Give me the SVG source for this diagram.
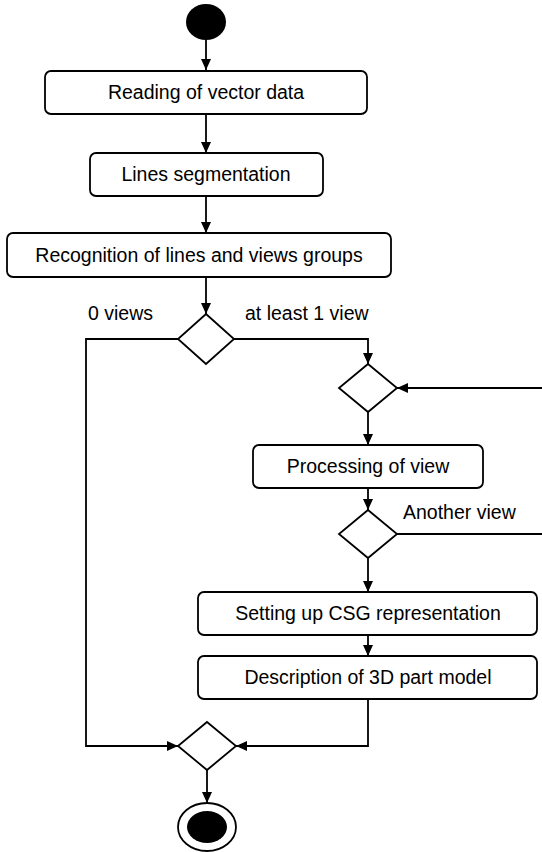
<svg xmlns="http://www.w3.org/2000/svg" width="542" height="852" viewBox="0 0 542 852">
  <style>
    .box { fill: #ffffff; stroke: #000000; stroke-width: 1.8; }
    .dec { fill: #ffffff; stroke: #000000; stroke-width: 1.8; }
    .lbl { font-family: "Liberation Sans", Arial, sans-serif; font-size: 19.5px; fill: #000000; }
    .mid { text-anchor: middle; }
    .edge { fill: none; stroke: #000000; stroke-width: 1.8; }
  </style>
  <defs>
    <marker id="arrow" markerWidth="12" markerHeight="12" refX="11" refY="6" orient="auto" markerUnits="userSpaceOnUse">
      <path d="M0,1 L11,6 L0,11 Z" fill="#000000"/>
    </marker>
  </defs>
  <rect width="542" height="852" fill="#ffffff"/>

  <g id="connectors">
    <path class="edge" d="M206,40 V70" marker-end="url(#arrow)"/>
    <path class="edge" d="M206,114 V153" marker-end="url(#arrow)"/>
    <path class="edge" d="M206,196 V233" marker-end="url(#arrow)"/>
    <path class="edge" d="M206,277 V314" marker-end="url(#arrow)"/>
    <path class="edge" d="M178,339 H86 V746 H178" marker-end="url(#arrow)"/>
    <path class="edge" d="M234,339 H368 V364" marker-end="url(#arrow)"/>
    <path class="edge" d="M542,388 H397" marker-end="url(#arrow)"/>
    <path class="edge" d="M368,412 V445" marker-end="url(#arrow)"/>
    <path class="edge" d="M368,488 V510" marker-end="url(#arrow)"/>
    <path class="edge" d="M397,534 H542"/>
    <path class="edge" d="M368,558 V592" marker-end="url(#arrow)"/>
    <path class="edge" d="M368,635 V656" marker-end="url(#arrow)"/>
    <path class="edge" d="M368,699 V746 H236" marker-end="url(#arrow)"/>
    <path class="edge" d="M207,770 V803" marker-end="url(#arrow)"/>
  </g>

  <g id="start">
    <ellipse cx="206" cy="22" rx="20" ry="18" fill="#000000"/>
  </g>

  <g id="reading">
    <rect class="box" x="45" y="71" width="322" height="43" rx="6"/>
    <text class="lbl mid" x="206" y="99">Reading of vector data</text>
  </g>

  <g id="segmentation">
    <rect class="box" x="90" y="153" width="233" height="43" rx="6"/>
    <text class="lbl mid" x="206" y="181">Lines segmentation</text>
  </g>

  <g id="recognition">
    <rect class="box" x="7" y="233" width="384" height="44" rx="6"/>
    <text class="lbl mid" x="199" y="262">Recognition of lines and views groups</text>
  </g>

  <g id="views-decision">
    <polygon class="dec" points="206,314 234,339 206,364 178,339"/>
    <text class="lbl" x="88" y="320">0 views</text>
    <text class="lbl" x="245" y="320">at least 1 view</text>
  </g>

  <g id="loop-merge">
    <polygon class="dec" points="368,364 397,388 368,412 339,388"/>
  </g>

  <g id="processing">
    <rect class="box" x="253" y="445" width="230" height="43" rx="6"/>
    <text class="lbl mid" x="368" y="473">Processing of view</text>
  </g>

  <g id="another-decision">
    <polygon class="dec" points="368,510 397,534 368,558 339,534"/>
    <text class="lbl" x="403" y="519">Another view</text>
  </g>

  <g id="csg">
    <rect class="box" x="198" y="592" width="339" height="43" rx="6"/>
    <text class="lbl mid" x="368" y="620">Setting up CSG representation</text>
  </g>

  <g id="description">
    <rect class="box" x="198" y="656" width="339" height="43" rx="6"/>
    <text class="lbl mid" x="368" y="684">Description of 3D part model</text>
  </g>

  <g id="final-merge">
    <polygon class="dec" points="207,722 236,746 207,770 178,746"/>
  </g>

  <g id="end">
    <ellipse cx="207" cy="827" rx="29" ry="24" fill="#ffffff" stroke="#000000" stroke-width="1.8"/>
    <ellipse cx="207" cy="827" rx="20" ry="16" fill="#000000"/>
  </g>
</svg>
